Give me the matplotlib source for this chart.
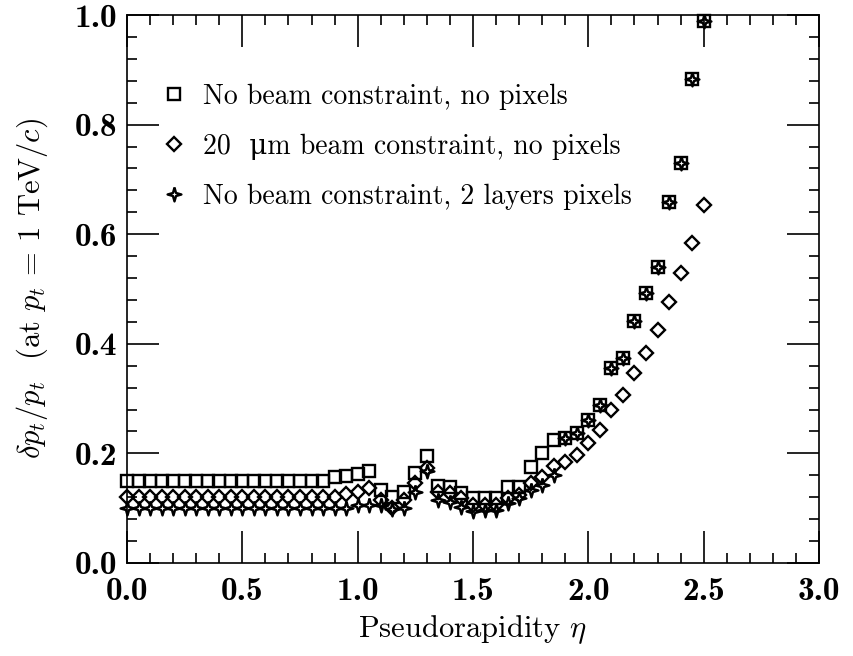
import matplotlib
matplotlib.use("Agg")
import matplotlib.pyplot as plt
from matplotlib.path import Path
from matplotlib.ticker import MultipleLocator

plt.rcParams['font.family'] = ['cmr10', 'DejaVu Serif']
plt.rcParams['mathtext.fontset'] = 'cm'
plt.rcParams['axes.formatter.use_mathtext'] = True

eta = [0.00, 0.05, 0.10, 0.15, 0.20, 0.25, 0.30, 0.35, 0.40, 0.45,
       0.50, 0.55, 0.60, 0.65, 0.70, 0.75, 0.80, 0.85, 0.90, 0.95,
       1.00, 1.05, 1.10, 1.15, 1.20, 1.25, 1.30, 1.35, 1.40, 1.45,
       1.50, 1.55, 1.60, 1.65, 1.70, 1.75, 1.80, 1.85, 1.90, 1.95,
       2.00, 2.05, 2.10, 2.15, 2.20, 2.25, 2.30, 2.35, 2.40, 2.45,
       2.50]

no_beam_no_pix = [0.150, 0.150, 0.150, 0.150, 0.150, 0.150, 0.150, 0.150, 0.150, 0.150,
                  0.150, 0.150, 0.150, 0.150, 0.150, 0.150, 0.150, 0.150, 0.157, 0.159,
                  0.162, 0.167, 0.133, 0.121, 0.130, 0.164, 0.195, 0.140, 0.139, 0.128,
                  0.119, 0.119, 0.119, 0.139, 0.139, 0.175, 0.200, 0.224, 0.228, 0.237,
                  0.261, 0.288, 0.355, 0.374, 0.442, 0.492, 0.541, 0.659, 0.730, 0.884,
                  0.990]

beam20_no_pix = [0.120, 0.120, 0.120, 0.120, 0.120, 0.120, 0.120, 0.120, 0.120, 0.120,
                 0.120, 0.120, 0.120, 0.120, 0.120, 0.120, 0.120, 0.120, 0.120, 0.125,
                 0.130, 0.137, 0.115, 0.100, 0.115, 0.146, 0.173, 0.130, 0.127, 0.119,
                 0.106, 0.106, 0.106, 0.119, 0.124, 0.146, 0.157, 0.177, 0.184, 0.197,
                 0.219, 0.243, 0.279, 0.307, 0.347, 0.383, 0.425, 0.477, 0.529, 0.584,
                 0.653]

no_beam_2pix = [0.100, 0.100, 0.100, 0.100, 0.100, 0.100, 0.100, 0.100, 0.100, 0.100,
                0.100, 0.100, 0.100, 0.100, 0.100, 0.100, 0.100, 0.100, 0.100, 0.100,
                0.105, 0.105, 0.105, 0.098, 0.100, 0.130, 0.168, 0.115, 0.112, 0.103,
                0.094, 0.097, 0.097, 0.109, 0.119, 0.133, 0.142, 0.161, 0.228, 0.237,
                0.261, 0.288, 0.355, 0.374, 0.442, 0.492, 0.541, 0.659, 0.730, 0.884,
                0.990]

labels = ['No beam constraint, no pixels',
          '20  \u03bcm beam constraint, no pixels',
          'No beam constraint, 2 layers pixels']

# four pointed star with concave sides
star = Path([(0, 1), (0.22, 0.22), (1, 0), (0.22, -0.22), (0, -1),
             (-0.22, -0.22), (-1, 0), (-0.22, 0.22), (0, 1)])

fig = plt.figure(figsize=(8.54, 6.56), dpi=100)
ax = fig.add_axes([0.1487, 0.1418, 0.8103, 0.8353])

common = dict(linestyle='none', color='black', mfc='none', mew=1.7, clip_on=False)
ax.plot(eta, no_beam_no_pix, marker='s', ms=8.3, label=labels[0], **common)
ax.plot(eta, beam20_no_pix, marker='D', ms=7.3, label=labels[1], **common)
ax.plot(eta, no_beam_2pix, marker=star, ms=10, label=labels[2], **common)

ax.set_xlim(0, 3.0)
ax.set_ylim(0, 1.0)
ax.xaxis.set_major_locator(MultipleLocator(0.5))
ax.xaxis.set_minor_locator(MultipleLocator(0.1))
ax.yaxis.set_major_locator(MultipleLocator(0.2))
ax.yaxis.set_minor_locator(MultipleLocator(0.04))
ax.xaxis.set_major_formatter(plt.FuncFormatter(lambda v, p: f'{v:.1f}'))
ax.yaxis.set_major_formatter(plt.FuncFormatter(lambda v, p: f'{v:.1f}'))

ax.tick_params(which='both', direction='in', top=True, right=True, width=1.2)
ax.tick_params(which='major', length=23)
ax.tick_params(which='minor', length=7.5)
ax.tick_params(axis='x', which='major', labelsize=24, pad=10)
ax.tick_params(axis='y', which='major', labelsize=24, pad=7)
for lab in ax.get_xticklabels() + ax.get_yticklabels():
    lab.set_family('cmb10')
for s in ax.spines.values():
    s.set_linewidth(1.2)

ax.set_xlabel(r'Pseudorapidity $\eta$', fontsize=22, labelpad=5)
ax.set_ylabel(r'$\delta p_t/p_t$  (at $p_t$ = 1 TeV/$c$)', fontsize=22, labelpad=18)

ax.legend(loc='upper left', bbox_to_anchor=(0.048, 0.875), frameon=False,
          fontsize=20, handlelength=1.0, handletextpad=0.55, labelspacing=0.85,
          borderpad=0, borderaxespad=0, numpoints=1)

fig.savefig('out.png', dpi=100)
